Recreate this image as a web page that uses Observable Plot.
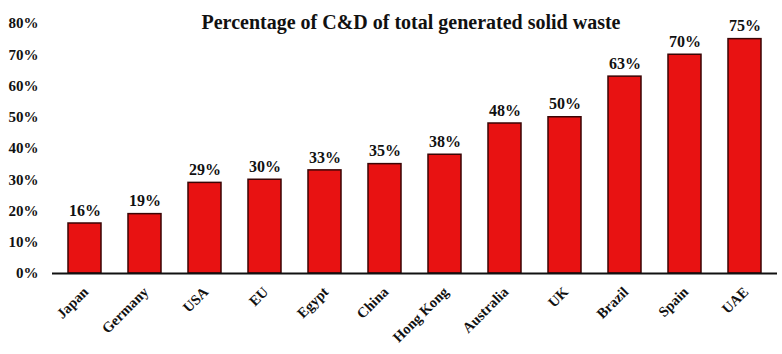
<!DOCTYPE html>
<html>
<head>
<meta charset="utf-8">
<script src="https://cdn.jsdelivr.net/npm/d3@7"></script>
<script src="https://cdn.jsdelivr.net/npm/@observablehq/plot@0.6"></script>
<style>
  html, body { margin: 0; padding: 0; background: #fff; }
  svg { display: block; }
</style>
</head>
<body>
<div id="chart"></div>
<script>
const title = "Percentage of C&D of total generated solid waste";
const countries = ["Japan", "Germany", "USA", "EU", "Egypt", "China", "Hong Kong", "Australia", "UK", "Brazil", "Spain", "UAE"];
const values = [16, 19, 29, 30, 33, 35, 38, 48, 50, 63, 70, 75];
const yTicks = [0, 10, 20, 30, 40, 50, 60, 70, 80];

const data = countries.map((c, i) => ({country: c, value: values[i]}));
const font = "'Liberation Serif', 'Times New Roman', serif";

const chart = Plot.plot({
  width: 782,
  height: 354,
  marginLeft: 52,
  marginRight: 5,
  marginTop: 23,
  marginBottom: 81,
  style: {fontFamily: font, fontWeight: "bold", fontSize: "14px", color: "#111", background: "#fff"},
  x: {domain: countries, paddingInner: 0.45, paddingOuter: 0.215, label: null},
  y: {domain: [0, 80], label: null},
  marks: [
    Plot.axisY({ticks: yTicks, tickFormat: d => d + "%", tickSize: 0, tickPadding: 14, fontSize: 15, fontWeight: "bold"}),
    Plot.axisX({tickSize: 0, tickRotate: -45, tickPadding: 16, fontSize: 14.5, fontWeight: "bold", dx: 1}),
    Plot.barY(data, {x: "country", y: "value", fill: "#e81212", stroke: "#3a0505", strokeWidth: 1.5}),
    Plot.ruleY([0], {stroke: "#111", strokeWidth: 2}),
    Plot.text(data, {x: "country", y: "value", text: d => d.value + "%", dy: -13, fontSize: 16, fontWeight: "bold", fill: "#111"}),
    Plot.text([title], {frameAnchor: "top", dy: -9, dx: -4, fontSize: 20, fontWeight: "bold", fill: "#111"})
  ]
});
document.getElementById("chart").appendChild(chart);
</script>
</body>
</html>
